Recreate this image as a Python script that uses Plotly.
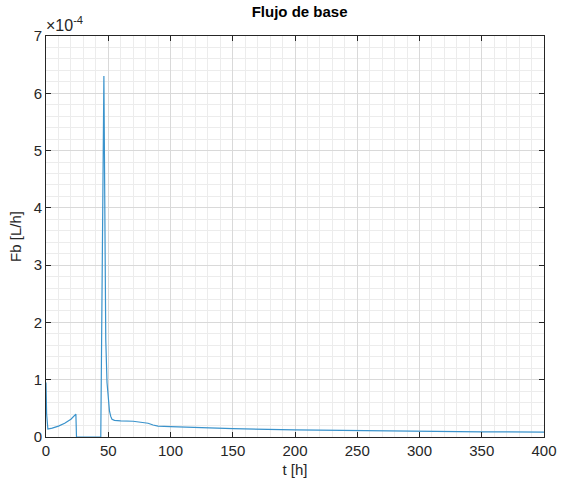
import plotly.graph_objects as go

# Data (Fb in units of 1e-4 L/h)
t_h = [0, 0.5, 1.5, 5, 10, 15, 20, 24, 24.5, 30, 35, 40, 44,
       46.5, 47, 47.5, 48, 49, 50, 51, 52, 53, 55, 60, 70, 78, 82, 86, 90,
       100, 120, 150, 200, 250, 300, 350, 400]
fb_e4 = [0.95, 0.40, 0.14, 0.155, 0.19, 0.24, 0.31, 0.40, 0.0, 0.0, 0.0, 0.0, 0.0,
         6.3, 4.5, 2.8, 1.7, 0.95, 0.6, 0.45, 0.36, 0.31, 0.29, 0.28, 0.275, 0.26, 0.24, 0.21, 0.19,
         0.18, 0.165, 0.145, 0.125, 0.11, 0.10, 0.09, 0.085]
fb = [v * 1e-4 for v in fb_e4]

x_ticks = [0, 50, 100, 150, 200, 250, 300, 350, 400]
y_tick_labels = ["0", "1", "2", "3", "4", "5", "6", "7"]
y_ticks = [i * 1e-4 for i in range(len(y_tick_labels))]

font = "Liberation Sans, Arial, Helvetica, sans-serif"
axcol = "#262626"

fig = go.Figure()
fig.add_trace(go.Scatter(x=t_h, y=fb, mode="lines",
                         line=dict(color="#3a93cc", width=1.2), showlegend=False))

common = dict(showline=True, linecolor=axcol, linewidth=1, mirror="ticks",
              ticks="inside", ticklen=5, tickcolor=axcol, zeroline=False,
              showgrid=True, gridcolor="#d9d9d9", gridwidth=1,
              tickfont=dict(family=font, size=15, color=axcol))

fig.update_xaxes(range=[0, 400], tickvals=x_ticks,
                 minor=dict(dtick=10, showgrid=True, gridcolor="#ececec", ticks=""),
                 title=dict(text="t [h]", font=dict(family=font, size=15, color=axcol), standoff=6),
                 **common)
fig.update_yaxes(range=[0, 7e-4], tickvals=y_ticks, ticktext=y_tick_labels,
                 minor=dict(dtick=0.2e-4, showgrid=True, gridcolor="#ececec", ticks=""),
                 title=dict(text="Fb [L/h]", font=dict(family=font, size=15, color=axcol), standoff=8),
                 **common)

fig.add_annotation(xref="paper", yref="paper", x=0, y=1.0, yshift=0, xshift=-2,
                   xanchor="left", yanchor="bottom", showarrow=False,
                   text="×10<sup>-4</sup>", font=dict(family=font, size=16, color=axcol))

fig.update_layout(
    width=569, height=489,
    margin=dict(l=46, r=15, t=36, b=52),
    paper_bgcolor="white", plot_bgcolor="white",
    title=dict(text="<b>Flujo de base</b>", x=0.5265, xanchor="center", y=0.975, yanchor="middle",
               font=dict(family=font, size=15, color="#000000")),
)

fig.write_html("out.html")
